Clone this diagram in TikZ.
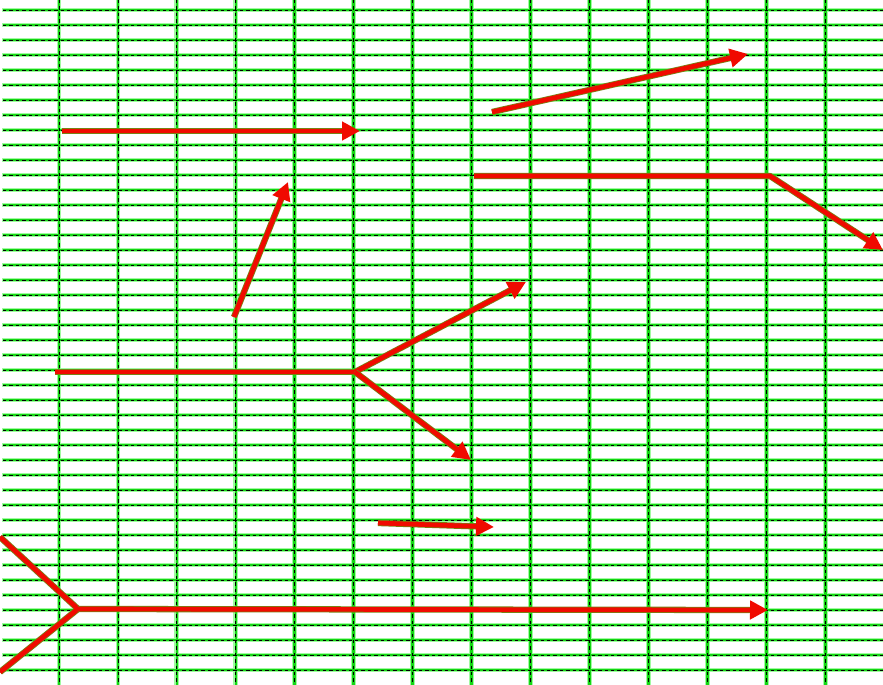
\documentclass[tikz,border=0pt]{standalone}
\usetikzlibrary{arrows.meta}
\definecolor{gridgreen}{RGB}{20,215,20}
\definecolor{gridhalo}{RGB}{160,250,160}
\definecolor{arrred}{RGB}{240,10,0}
\definecolor{arredge}{RGB}{120,130,20}
\tikzset{
  gridhalo/.style={draw=gridhalo, line width=3.6pt},
  gridline/.style={draw=gridgreen, line width=1.9pt},
  griddash/.style={draw=black, line width=0.6pt, dash pattern=on 2.6pt off 2.2pt},
  redarrow/.style={draw=arrred, line width=3.5pt, line join=round,
    -{Triangle[length=13.5pt,width=13.5pt]},
    preaction={draw=arredge, line width=4.7pt, -, line join=round, shorten >=8pt}},
  redline/.style={draw=arrred, line width=3.5pt, line join=round,
    preaction={draw=arredge, line width=4.7pt, line join=round}},
}
\begin{document}
\begin{tikzpicture}[x=0.75pt,y=-0.75pt]
\useasboundingbox (0,0) rectangle (883,685);
\fill[white] (0,0) rectangle (883,685);
% grid
\foreach \k in {0,...,44}{
  \draw[gridhalo] (2,10+15*\k) -- (883,10+15*\k);
}
\foreach \i in {1,...,14}{
  \draw[gridhalo] (58.95*\i,0) -- (58.95*\i,685);
}
\foreach \k in {0,...,44}{
  \draw[gridline] (3,10+15*\k) -- (883,10+15*\k);
}
\foreach \i in {1,...,14}{
  \draw[gridline] (58.95*\i,0) -- (58.95*\i,685);
}
\foreach \k in {0,...,44}{
  \draw[griddash] (3,10+15*\k) -- (883,10+15*\k);
}
\foreach \i in {1,...,14}{
  \draw[griddash] (58.95*\i,0) -- (58.95*\i,685);
}
% coordinates
\coordinate (a1s) at (62,131);
\coordinate (a1e) at (360,131);
\coordinate (a2s) at (492,112);
\coordinate (a2e) at (748,54);
\coordinate (a3s) at (474,176);
\coordinate (a3m) at (770,176);
\coordinate (a3e) at (883,250);
\coordinate (a4s) at (234,317);
\coordinate (a4e) at (288,182);
\coordinate (a5s) at (55,372);
\coordinate (a5m) at (355,372);
\coordinate (a5u) at (526,282);
\coordinate (a5d) at (471,460);
\coordinate (a6s) at (378,523);
\coordinate (a6e) at (494,527);
\coordinate (a7u) at (0,537);
\coordinate (a7d) at (0,672);
\coordinate (a7m) at (78,609);
\coordinate (a7e) at (768,610);
% arrows
\draw[redarrow] (a1s) -- (a1e);
\draw[redarrow] (a2s) -- (a2e);
\draw[redarrow] (a3s) -- (a3m) -- (a3e);
\draw[redarrow] (a4s) -- (a4e);
\draw[redline] (a5s) -- (a5m);
\draw[redarrow] (a5m) -- (a5u);
\draw[redarrow] (a5m) -- (a5d);
\draw[redarrow] (a6s) -- (a6e);
\draw[redline] (a7u) -- (a7m) -- (a7d);
\draw[redarrow] (a7m) -- (a7e);
\end{tikzpicture}
\end{document}
